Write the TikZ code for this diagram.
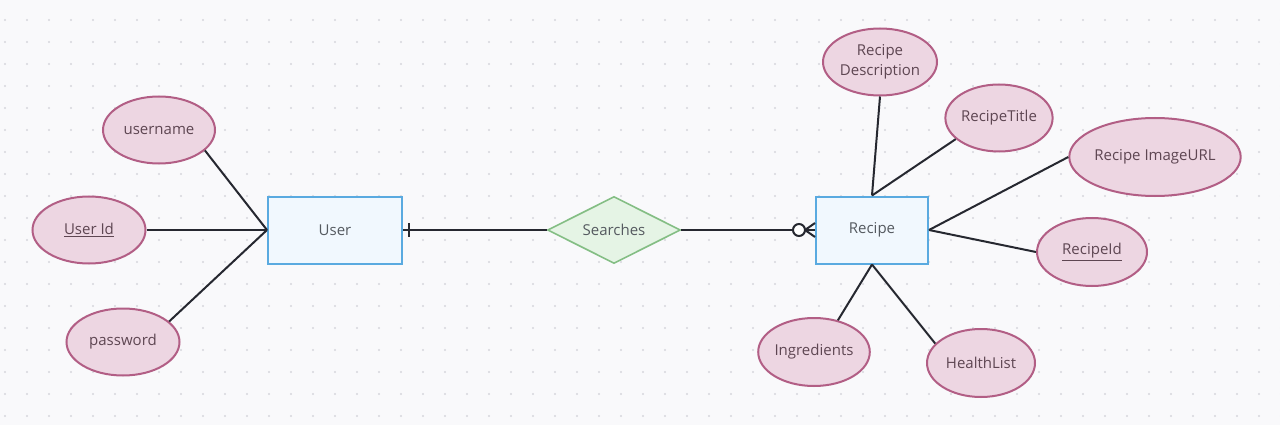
\documentclass[tikz,border=0pt]{standalone}
\usepackage{fontspec}
\setmainfont{Open Sans}
\usetikzlibrary{shapes.geometric}
\definecolor{bg}{HTML}{F9F9FB}
\definecolor{dotc}{HTML}{D6D6DC}
\definecolor{attfill}{HTML}{EDD6E2}
\definecolor{attdraw}{HTML}{B25E85}
\definecolor{attext}{HTML}{5E4652}
\definecolor{entfill}{HTML}{F1F8FE}
\definecolor{entdraw}{HTML}{5AAAE0}
\definecolor{relfill}{HTML}{E5F4E5}
\definecolor{reldraw}{HTML}{84BE84}
\definecolor{txt}{HTML}{555A60}
\definecolor{lnc}{HTML}{262830}
\tikzset{
  attr/.style={ellipse, draw=attdraw, fill=attfill, line width=2pt, inner sep=0pt,
    text=attext, font=\fontsize{15}{18}\selectfont, align=center},
  entity/.style={rectangle, draw=entdraw, fill=entfill, line width=2pt,
    minimum width=134pt, minimum height=67pt, text=txt, font=\fontsize{15}{18}\selectfont},
  rel/.style={diamond, draw=reldraw, fill=relfill, line width=1.6pt, inner sep=0pt,
    minimum width=133pt, minimum height=67pt, aspect=2, text=txt, font=\fontsize{15}{18}\selectfont},
  conn/.style={draw=lnc, line width=2pt},
}
\begin{document}
\begin{tikzpicture}[x=1pt,y=-1pt]
\useasboundingbox (0,0) rectangle (1280,425);
\fill[bg] (0,0) rectangle (1280,425);
\foreach \i in {0,...,58} {
  \foreach \j in {0,...,19} {
    \fill[dotc] (5+22*\i, 20+22*\j) circle (1.1pt);
  }
}
% nodes
\node[attr, minimum width=112pt, minimum height=67pt] (username) at (159,130) {username};
\node[attr, minimum width=113pt, minimum height=67pt] (userid) at (89,230) {\underline{User Id}};
\node[attr, minimum width=113pt, minimum height=67pt] (password) at (123,342) {password};
\node[entity] (user) at (335,230) {User};
\node[rel] (searches) at (614,230) {Searches};
\node[entity, minimum width=112pt] (recipe) at (872,230) {Recipe};
\node[attr, minimum width=114pt, minimum height=67pt] (desc) at (880,62) {Recipe\\[2pt]Description};
\node[attr, minimum width=104pt, minimum height=67pt] (title) at (999,118) {RecipeTitle};
\node[attr, minimum width=169pt, minimum height=78pt] (image) at (1155,157) {Recipe ImageURL};
\node[attr, minimum width=110pt, minimum height=68pt] (rid) at (1092,252) {\underline{RecipeId}};
\node[attr, minimum width=110pt, minimum height=68pt] (ingr) at (814,352) {Ingredients};
\node[attr, minimum width=108pt, minimum height=68pt] (health) at (981,363) {HealthList};
% connectors
\draw[conn] (username.336) -- (user.west);
\draw[conn] (userid.east) -- (user.west);
\draw[conn] (password.24) -- (user.west);
\draw[conn] (user.east) -- (searches.west);
\draw[conn] ([xshift=6pt]user.east) ++(0,-7) -- ++(0,14);
\coordinate (circ) at ([xshift=-16pt]recipe.west);
\draw[conn] (searches.east) -- ([xshift=-6pt]circ);
\draw[conn, fill=white] (circ) circle (6pt);
\draw[conn] ([xshift=6pt]circ) -- (recipe.west);
\draw[conn] ([xshift=6pt]circ) -- ([yshift=-7pt]recipe.west);
\draw[conn] ([xshift=6pt]circ) -- ([yshift=7pt]recipe.west);
\draw[conn] (desc.south) -- (recipe.north);
\draw[conn] (title.206) -- (recipe.north);
\draw[conn] (image.west) -- (recipe.east);
\draw[conn] (rid.west) -- (recipe.east);
\draw[conn] (ingr.53) -- (recipe.south);
\draw[conn] (health.157) -- (recipe.south);
\end{tikzpicture}
\end{document}
